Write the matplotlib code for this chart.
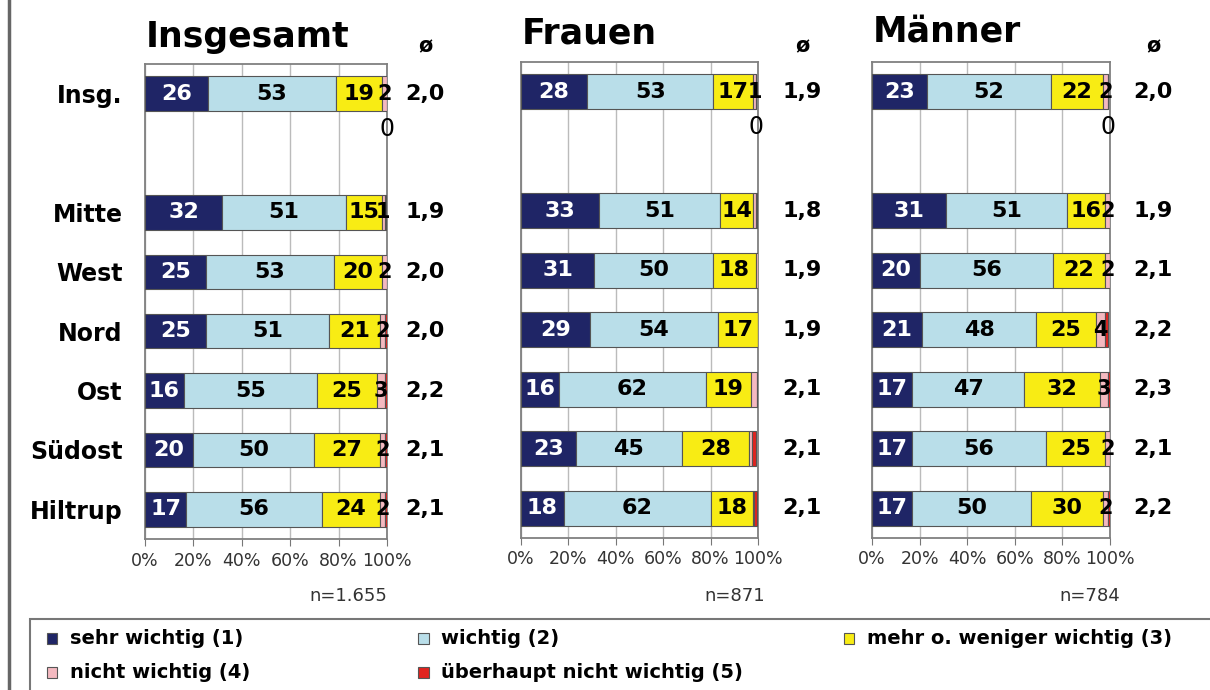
import matplotlib
matplotlib.use("Agg")
import matplotlib.pyplot as plt
from matplotlib.patches import Rectangle
from matplotlib.lines import Line2D
import numpy as np

plt.rcParams['font.family'] = ['DejaVu Sans']

rows = ["Insg.", "Mitte", "West", "Nord", "Ost", "Südost", "Hiltrup"]
row_pos = [0, 2, 3, 4, 5, 6, 7]

legend_labels = ["sehr wichtig (1)", "wichtig (2)", "mehr o. weniger wichtig (3)",
                 "nicht wichtig (4)", "überhaupt nicht wichtig (5)"]
colors = ["#1F2566", "#B9DEE9", "#F8EC14", "#F4B9C0", "#E0231E"]

panel_titles = ["Insgesamt", "Frauen", "Männer"]
panel_n = ["n=1.655", "n=871", "n=784"]

# Insgesamt
ins_1 = [26, 32, 25, 25, 16, 20, 17]
ins_2 = [53, 51, 53, 51, 55, 50, 56]
ins_3 = [19, 15, 20, 21, 25, 27, 24]
ins_4 = [2, 1, 2, 2, 3, 2, 2]
ins_5 = [0, 0.5, 0.5, 1, 1, 1, 1]
ins_avg = ["2,0", "1,9", "2,0", "2,0", "2,2", "2,1", "2,1"]

# Frauen
fr_1 = [28, 33, 31, 29, 16, 23, 18]
fr_2 = [53, 51, 50, 54, 62, 45, 62]
fr_3 = [17, 14, 18, 17, 19, 28, 18]
fr_4 = [1, 1, 1, 0, 2.5, 1.5, 0.5]
fr_5 = [0, 0.5, 0, 0, 0.5, 1.5, 1]
fr_avg = ["1,9", "1,8", "1,9", "1,9", "2,1", "2,1", "2,1"]

# Männer
ma_1 = [23, 31, 20, 21, 17, 17, 17]
ma_2 = [52, 51, 56, 48, 47, 56, 50]
ma_3 = [22, 16, 22, 25, 32, 25, 30]
ma_4 = [2, 2, 2, 4, 3, 2, 2]
ma_5 = [0, 0, 0, 1, 1, 0, 1]
ma_avg = ["2,0", "1,9", "2,1", "2,2", "2,3", "2,1", "2,2"]

# which labels are shown for series 4 / 5 (per panel)
show4 = [[True] * 7, [True] + [False] * 6, [True] * 7]
show5 = [[True] + [False] * 6] * 3

panels = [
    [ins_1, ins_2, ins_3, ins_4, ins_5],
    [fr_1, fr_2, fr_3, fr_4, fr_5],
    [ma_1, ma_2, ma_3, ma_4, ma_5],
]
avgs = [ins_avg, fr_avg, ma_avg]

W, H = 1210, 690
fig = plt.figure(figsize=(W / 100, H / 100), dpi=100)

def fx(px):
    return px / W

def fy(py):
    return 1 - py / H

# axes boxes in pixels: left, right, top, bottom
boxes = [(145, 387, 64, 539), (521, 758, 62, 538), (872, 1110, 62, 538)]
avg_x_px = [425, 802, 1153]
title_base_px = [47, 43, 41]
n_right_px = [387, 765, 1120]

for p, (series, box) in enumerate(zip(panels, boxes)):
    l, r, t, b = box
    ax = fig.add_axes([fx(l), fy(b), fx(r - l), (b - t) / H])
    left = np.zeros(len(rows))
    for k, vals in enumerate(series):
        vals = np.array(vals, dtype=float)
        ax.barh(row_pos, vals, left=left, height=0.58, color=colors[k],
                edgecolor="#555555", linewidth=0.8, zorder=3)
        for i, v in enumerate(vals):
            cx = left[i] + v / 2
            txt = f"{v:g}"
            if k == 0:
                ax.text(cx, row_pos[i], txt, ha="center", va="center",
                        color="white", fontsize=16, fontweight="bold", zorder=5)
            elif k in (1, 2):
                ax.text(cx, row_pos[i], txt, ha="center", va="center",
                        color="black", fontsize=16, fontweight="bold", zorder=5)
            elif k == 3 and show4[p][i]:
                ax.text(cx, row_pos[i], txt, ha="center", va="center",
                        color="black", fontsize=15, fontweight="bold", zorder=5)
            elif k == 4 and show5[p][i]:
                ax.text(cx, row_pos[i] + 0.6, txt, ha="center", va="center",
                        color="black", fontsize=17, zorder=5)
        left += vals
    ax.set_xlim(0, 100)
    ax.set_ylim(7.5, -0.5)
    ax.set_xticks([0, 20, 40, 60, 80, 100])
    ax.set_xticklabels(["0%", "20%", "40%", "60%", "80%", "100%"])
    ax.tick_params(axis="x", direction="out", length=5, color="#777777",
                   labelsize=12.5, labelcolor="#333333", pad=4)
    ax.xaxis.grid(True, color="#BBBBBB", linewidth=1, zorder=0)
    ax.set_axisbelow(True)
    for s in ax.spines.values():
        s.set_color("#808080")
        s.set_linewidth(1.3)
    ax.set_yticks(row_pos)
    if p == 0:
        ax.set_yticklabels(rows, fontsize=17, fontweight="bold")
        ax.tick_params(axis="y", length=0, pad=16)
    else:
        ax.set_yticklabels([])
        ax.tick_params(axis="y", length=0)
    # averages
    ax_x = (avg_x_px[p] - l) / (r - l)
    for i, a in enumerate(avgs[p]):
        ax.text(ax_x, row_pos[i], a, transform=ax.get_yaxis_transform(),
                ha="center", va="center", fontsize=16, fontweight="bold",
                clip_on=False)
    fig.text(fx(avg_x_px[p]), fy(46), "ø", ha="center", va="center",
             fontsize=15, fontweight="bold")
    fig.text(fx(l + 1), fy(title_base_px[p]), panel_titles[p], ha="left",
             va="baseline", fontsize=25, fontweight="bold")
    fig.text(fx(n_right_px[p]), fy(596), panel_n[p], ha="right", va="center",
             fontsize=13, color="#333333")

# left frame line
fig.add_artist(Line2D([fx(9), fx(9)], [0, 1], color="#666666", linewidth=2.5))

# legend box
fig.add_artist(Rectangle((fx(30), fy(695)), fx(1200), (695 - 619) / H,
                         facecolor="white", edgecolor="#777777", linewidth=1.5,
                         transform=fig.transFigure))
leg_pos = [(52, 638), (423, 638), (849, 638), (52, 672), (423, 672)]
for lab, col, (mx, my) in zip(legend_labels, colors, leg_pos):
    fig.add_artist(Rectangle((fx(mx - 5.5), fy(my + 5.5)), fx(11), 11 / H,
                             facecolor=col, edgecolor="#555555", linewidth=0.8,
                             transform=fig.transFigure))
    fig.text(fx(mx + 18), fy(my), lab, ha="left", va="center",
             fontsize=14, fontweight="bold")

fig.savefig("out.png", dpi=100, facecolor="white")
